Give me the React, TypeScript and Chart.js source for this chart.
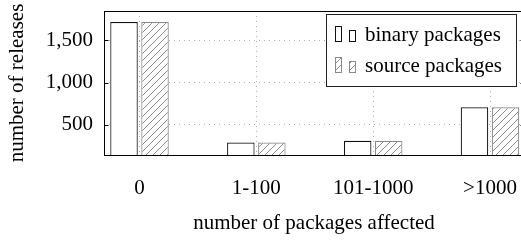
import React, { useEffect, useRef } from 'react';
import { Chart, registerables } from 'chart.js';

Chart.register(...registerables);

const categories = ['0', '1-100', '101-1000', '>1000'];
const binaryValues = [1715, 292, 312, 708];
const sourceValues = [1715, 292, 312, 708];
const yTickValues = [500, 1000, 1500];
const seriesNames = ['binary packages', 'source packages'];
const xTitle = 'number of packages affected';
const yTitle = 'number of releases';

const FONT = "'Liberation Serif', 'Times New Roman', serif";
const FS = 21;
const HATCH = 7;

function makeHatch(): CanvasPattern | string {
  const c = document.createElement('canvas');
  c.width = HATCH;
  c.height = HATCH;
  const g = c.getContext('2d');
  if (!g) return '#fff';
  g.fillStyle = '#fff';
  g.fillRect(0, 0, HATCH, HATCH);
  g.strokeStyle = '#8a8a8a';
  g.lineWidth = 1;
  g.beginPath();
  g.moveTo(-1, HATCH + 1);
  g.lineTo(HATCH + 1, -1);
  g.moveTo(-1, 1);
  g.lineTo(1, -1);
  g.moveTo(HATCH - 1, HATCH + 1);
  g.lineTo(HATCH + 1, HATCH - 1);
  g.stroke();
  return g.createPattern(c, 'repeat') || '#fff';
}

const framePlugin = {
  id: 'frame',
  afterDatasetsDraw(chart: any) {
    const { ctx, chartArea: a, scales } = chart;
    ctx.save();
    ctx.strokeStyle = '#000';
    ctx.lineWidth = 1;
    const l = Math.round(a.left) + 0.5;
    const r = Math.round(a.right) + 0.5;
    const t = Math.round(a.top) + 0.5;
    const b = Math.round(a.bottom) + 0.5;
    ctx.strokeRect(l, t, r - l, b - t);
    ctx.beginPath();
    for (const v of yTickValues) {
      const y = Math.round(scales.y.getPixelForValue(v)) + 0.5;
      ctx.moveTo(l, y);
      ctx.lineTo(l + 4, y);
      ctx.moveTo(r, y);
      ctx.lineTo(r - 4, y);
    }
    ctx.stroke();
    ctx.restore();
  },
};

function makeLegendPlugin(hatch: CanvasPattern | string) {
  return {
    id: 'pgfLegend',
    afterDraw(chart: any) {
      const { ctx, chartArea: a } = chart;
      const right = 516;
      const left = right - 190;
      const top = Math.round(a.top) + 3;
      const bottom = top + 72;
      ctx.save();
      ctx.fillStyle = '#fff';
      ctx.fillRect(left, top, right - left, bottom - top);
      ctx.strokeStyle = '#222';
      ctx.lineWidth = 1;
      ctx.strokeRect(left + 0.5, top + 0.5, right - left, bottom - top);
      const rows = [
        { name: seriesNames[0], fill: '#fff', stroke: '#111' },
        { name: seriesNames[1], fill: hatch, stroke: '#8a8a8a' },
      ];
      ctx.font = `${FS}px ${FONT}`;
      ctx.textBaseline = 'alphabetic';
      ctx.textAlign = 'left';
      rows.forEach((row, i) => {
        const base = top + 27 + i * 31;
        ctx.fillStyle = row.fill;
        ctx.strokeStyle = row.stroke;
        ctx.fillRect(left + 9, base - 15, 7, 16);
        ctx.strokeRect(left + 9.5, base - 14.5, 6, 15);
        ctx.fillRect(left + 23, base - 11, 7, 12);
        ctx.strokeRect(left + 23.5, base - 10.5, 6, 11);
        ctx.fillStyle = '#000';
        ctx.fillText(row.name, left + 39, base);
      });
      ctx.restore();
    },
  };
}

const zeroPadding = (scale: any) => {
  scale.paddingTop = 0;
  scale.paddingBottom = 0;
  scale.paddingLeft = 0;
  scale.paddingRight = 0;
};

export default function App() {
  const ref = useRef<HTMLCanvasElement | null>(null);

  useEffect(() => {
    const canvas = ref.current;
    if (!canvas) return;
    const hatch = makeHatch();
    const grid = {
      color: '#b0b0b0',
      lineWidth: 1,
      drawTicks: false,
      offset: false,
    };
    const chart = new Chart(canvas, {
      type: 'bar',
      data: {
        datasets: [
          {
            label: seriesNames[0],
            data: binaryValues.map((v, i) => ({ x: i, y: v })),
            backgroundColor: '#fff',
            borderColor: '#111',
            borderWidth: 1.2,
            borderSkipped: 'start',
            categoryPercentage: 0.531,
            barPercentage: 0.887,
          },
          {
            label: seriesNames[1],
            data: sourceValues.map((v, i) => ({ x: i, y: v })),
            backgroundColor: hatch as any,
            borderColor: '#8a8a8a',
            borderWidth: 1.2,
            borderSkipped: 'start',
            categoryPercentage: 0.531,
            barPercentage: 0.887,
          },
        ],
      },
      options: {
        responsive: false,
        animation: false,
        devicePixelRatio: 1,
        layout: { padding: { left: 0, right: 2, top: 11, bottom: 0 } },
        plugins: {
          legend: { display: false },
          tooltip: { enabled: false },
        },
        scales: {
          x: {
            type: 'linear',
            offset: false,
            min: -0.304,
            max: 3.291,
            grid: grid as any,
            border: { display: false, dash: [1, 4] },
            afterBuildTicks: (scale: any) => {
              scale.ticks = categories.map((_, i) => ({ value: i }));
            },
            afterFit: (scale: any) => {
              scale.height = 85;
              zeroPadding(scale);
            },
            ticks: {
              color: '#000',
              font: { family: FONT, size: FS },
              padding: 21,
              maxRotation: 0,
              autoSkip: false,
              callback: (v: any) => categories[v as number] ?? '',
            },
            title: {
              display: true,
              text: xTitle,
              color: '#000',
              font: { family: FONT, size: FS },
              padding: { top: 0, bottom: 4 },
            },
          },
          y: {
            type: 'linear',
            min: 145,
            max: 1845,
            grid: grid as any,
            border: { display: false, dash: [1, 4] },
            afterBuildTicks: (scale: any) => {
              scale.ticks = yTickValues.map((v) => ({ value: v }));
            },
            afterFit: (scale: any) => {
              scale.width = 104;
              zeroPadding(scale);
            },
            ticks: {
              color: '#000',
              font: { family: FONT, size: FS },
              padding: 11,
              callback: (v: any) => Number(v).toLocaleString('en-US'),
            },
            title: {
              display: true,
              text: yTitle,
              color: '#000',
              font: { family: FONT, size: FS },
              padding: { top: 5, bottom: 0 },
            },
          },
        },
      },
      plugins: [framePlugin, makeLegendPlugin(hatch)],
    });
    return () => chart.destroy();
  }, []);

  return (
    <div
      style={{
        position: 'fixed',
        left: 0,
        top: 0,
        width: 521,
        height: 240,
        overflow: 'hidden',
        background: '#fff',
      }}
    >
      <canvas ref={ref} width={526} height={240} style={{ display: 'block' }} />
    </div>
  );
}
